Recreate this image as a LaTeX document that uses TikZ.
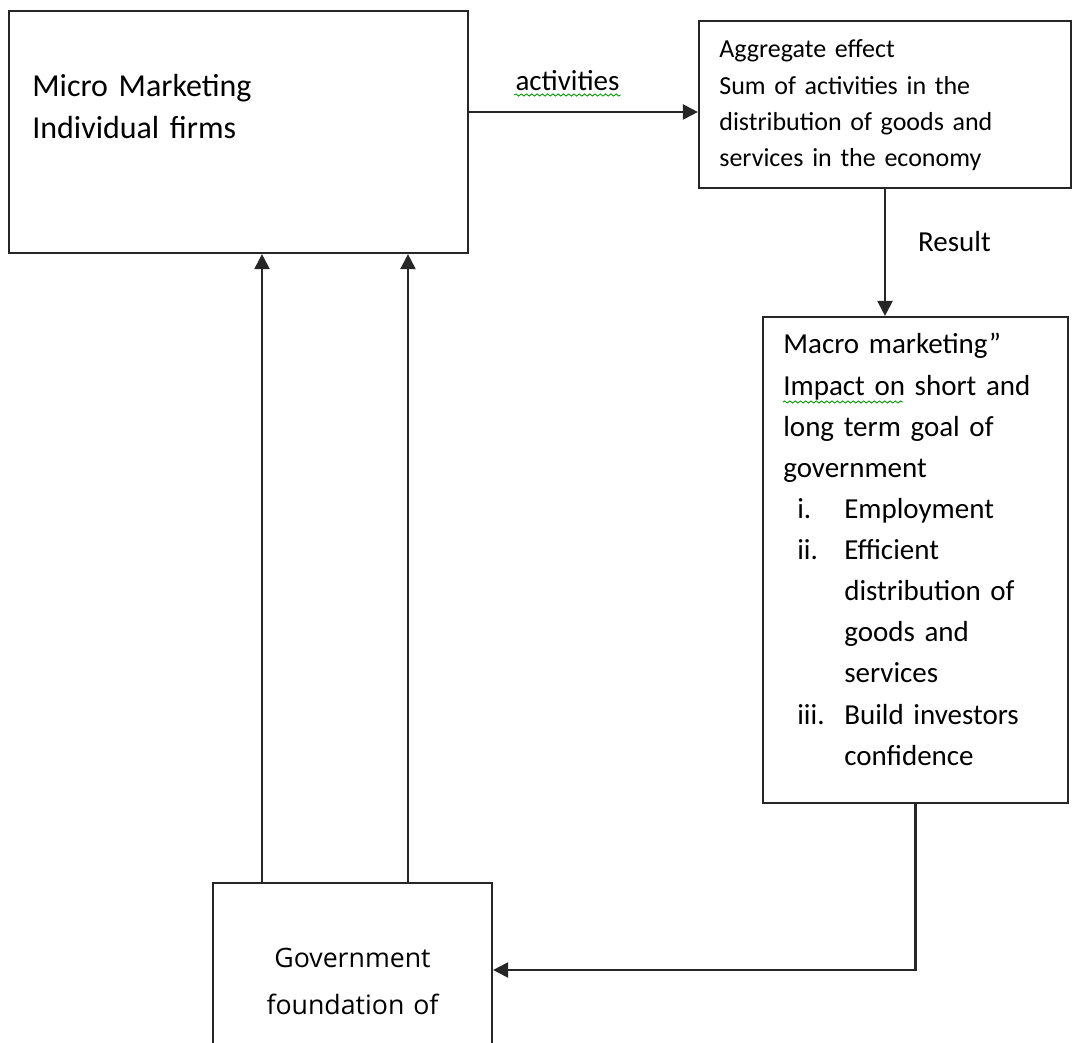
\documentclass[tikz,border=0pt]{standalone}
\usepackage{fontspec}
\setmainfont[WordSpace=0.85]{Carlito}
\newfontfamily\govfont{Open Sans}
\usetikzlibrary{arrows.meta,positioning,decorations.pathmorphing}
\newcommand*\romanitem[1]{\hspace*{0.28cm}\makebox[0.94cm][l]{#1}}
\newcommand*\romancont{\hspace*{1.22cm}}

\begin{document}
\begin{tikzpicture}[x=0.02cm,y=-0.02cm,>={Triangle[length=0.3cm,width=0.3cm]},
	box/.style={shape=rectangle,draw=black!85,line width=1.3pt,inner sep=0pt},
	txt/.style={anchor=base west,inner sep=0pt,align=left,text width=#1},
	lbl/.style={inner sep=0pt,font=\fontsize{16.5}{20}\selectfont},
	link/.style={->,draw=black!85,line width=1.3pt},
	squiggle/.style={draw=green!60!black,line width=0.5pt,decorate,
		decoration={snake,amplitude=0.6pt,segment length=3pt}}]
					\useasboundingbox (0,0) rectangle (1073,1043);
					\node (micro) [box,minimum width=9.18cm,minimum height=4.84cm] at (238.5,132) {};
					\node (aggregate) [box,minimum width=7.44cm,minimum height=3.34cm] at (885,104.5) {};
					\node (macro) [box,minimum width=6.1cm,minimum height=9.72cm] at (915.5,560) {};
					\node (gov) [box,minimum width=5.58cm,minimum height=3.48cm] at (352.5,970) {};
					
					\node (microtext) [txt=8cm,font=\fontsize{18.2}{23.9}\selectfont] at (32,97) {
						Micro Marketing\\
						Individual firms
					};
					\node (aggtext) [txt=7cm,font=\fontsize{14.8}{20.5}\selectfont] at (719,58) {
						Aggregate effect\\
						Sum of activities in the\\
						distribution of goods and\\
						services in the economy
					};
					\node (macrotext) [txt=5.8cm,font=\fontsize{16.5}{23.4}\selectfont] at (783,354) {
						Macro marketing”\\
						Impact on short and\\
						long term goal of\\
						government\\
						\romanitem{i.}Employment\\
						\romanitem{ii.}Efficient\\
						\romancont distribution of\\
						\romancont goods and\\
						\romancont services\\
						\romanitem{iii.}Build investors\\
						\romancont confidence
					};
					\node (govtext) [anchor=base,inner sep=0pt,align=center,text width=5cm,
						font=\govfont\fontsize{15.2}{26.2}\selectfont] at (352.5,968) {
						Government\\
						foundation of
					};
					
					\coordinate (actstart) at ([yshift=0.4cm]micro.east);
					\coordinate (govleft) at ([xshift=-1.81cm]gov.north);
					\coordinate (govright) at ([xshift=1.11cm]gov.north);
					
					\draw[link] (actstart) -- node[lbl,pos=0.43,above=0.4cm] (actlabel) {activities} (actstart -| aggregate.west);
					\draw[link] (aggregate.south) -- node[lbl,pos=0.415,right=0.64cm] (resultlabel) {Result} (aggregate.south |- macro.north);
					\draw[link] (macro.south) |- (gov.east);
					\draw[link] (govleft) -- (govleft |- micro.south);
					\draw[link] (govright) -- (govright |- micro.south);
					
					\draw[squiggle] ([yshift=-0.06cm]actlabel.south west) -- ([yshift=-0.06cm]actlabel.south east);
					\draw[squiggle] (783,402) -- (903,402);
\end{tikzpicture}
\end{document}
